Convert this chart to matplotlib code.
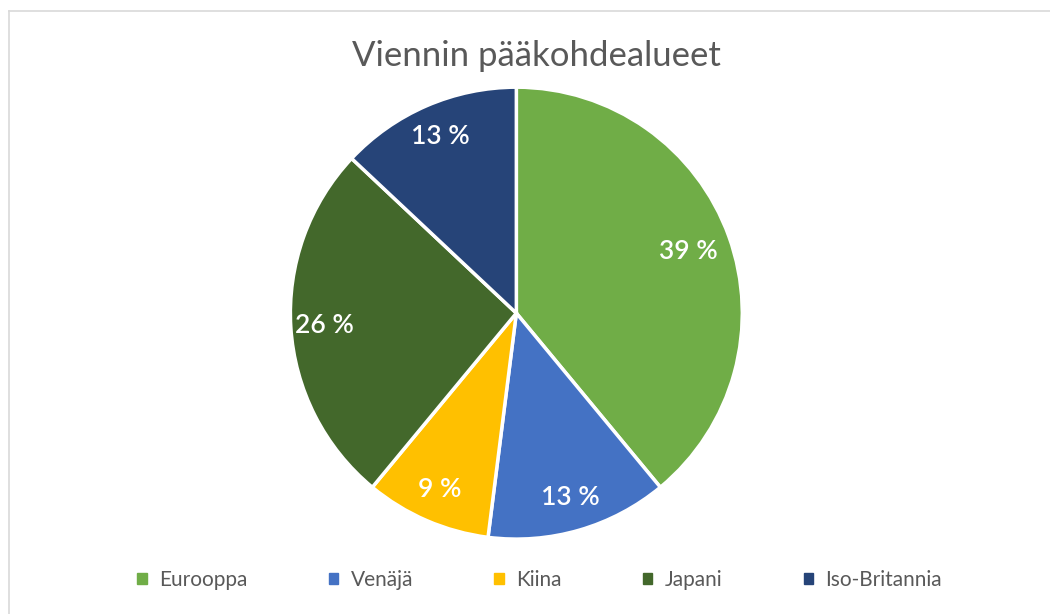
import matplotlib
matplotlib.use("Agg")
import matplotlib.pyplot as plt
from matplotlib.lines import Line2D

plt.rcParams['font.family'] = ['Lato', 'DejaVu Sans']

regions = ['Eurooppa', 'Venäjä', 'Kiina', 'Japani', 'Iso-Britannia']
shares = [39, 13, 9, 26, 13]
colors = ['#70AD47', '#4472C4', '#FFC000', '#43682B', '#264478']
title = 'Viennin pääkohdealueet'

fig = plt.figure(figsize=(10.5, 6.14), dpi=100)
fig.patch.set_facecolor('white')

# light grey chart border (top and left visible)
fig.add_artist(Line2D([8.5/1050, 1.0], [1-10.5/614]*2, color='#d9d9d9', lw=1.2))
fig.add_artist(Line2D([8.5/1050]*2, [0, 1-10.5/614], color='#d9d9d9', lw=1.2))

ax = fig.add_axes([0.2765, 0.122, 0.4305, 0.736])
wedges, texts, autotexts = ax.pie(
    shares, colors=colors, startangle=90, counterclock=False,
    autopct=lambda p: f'{p:.0f} %', pctdistance=0.85,
    wedgeprops=dict(edgecolor='white', linewidth=2.5),
    textprops=dict(color='white', fontsize=19, fontweight='semibold'))
x0, y0 = autotexts[0].get_position()
autotexts[0].set_position((x0 * 0.95, y0 * 0.95))
ax.set_xlim(-1.0, 1.0)
ax.set_ylim(-1.0, 1.0)
ax.set_aspect('equal')
ax.axis('off')

fig.text(0.511, 0.908, title, ha='center', va='center', fontsize=25, color='#595959')

handles = [plt.Rectangle((0, 0), 1, 1, color=c) for c in colors]
fig.legend(handles, regions, loc='center', bbox_to_anchor=(0.514, 0.055), ncol=5,
           frameon=False, fontsize=15, labelcolor='#595959',
           handlelength=0.45, handleheight=0.45, handletextpad=0.6, columnspacing=3.9)

fig.savefig('out.png', dpi=100, facecolor='white')
